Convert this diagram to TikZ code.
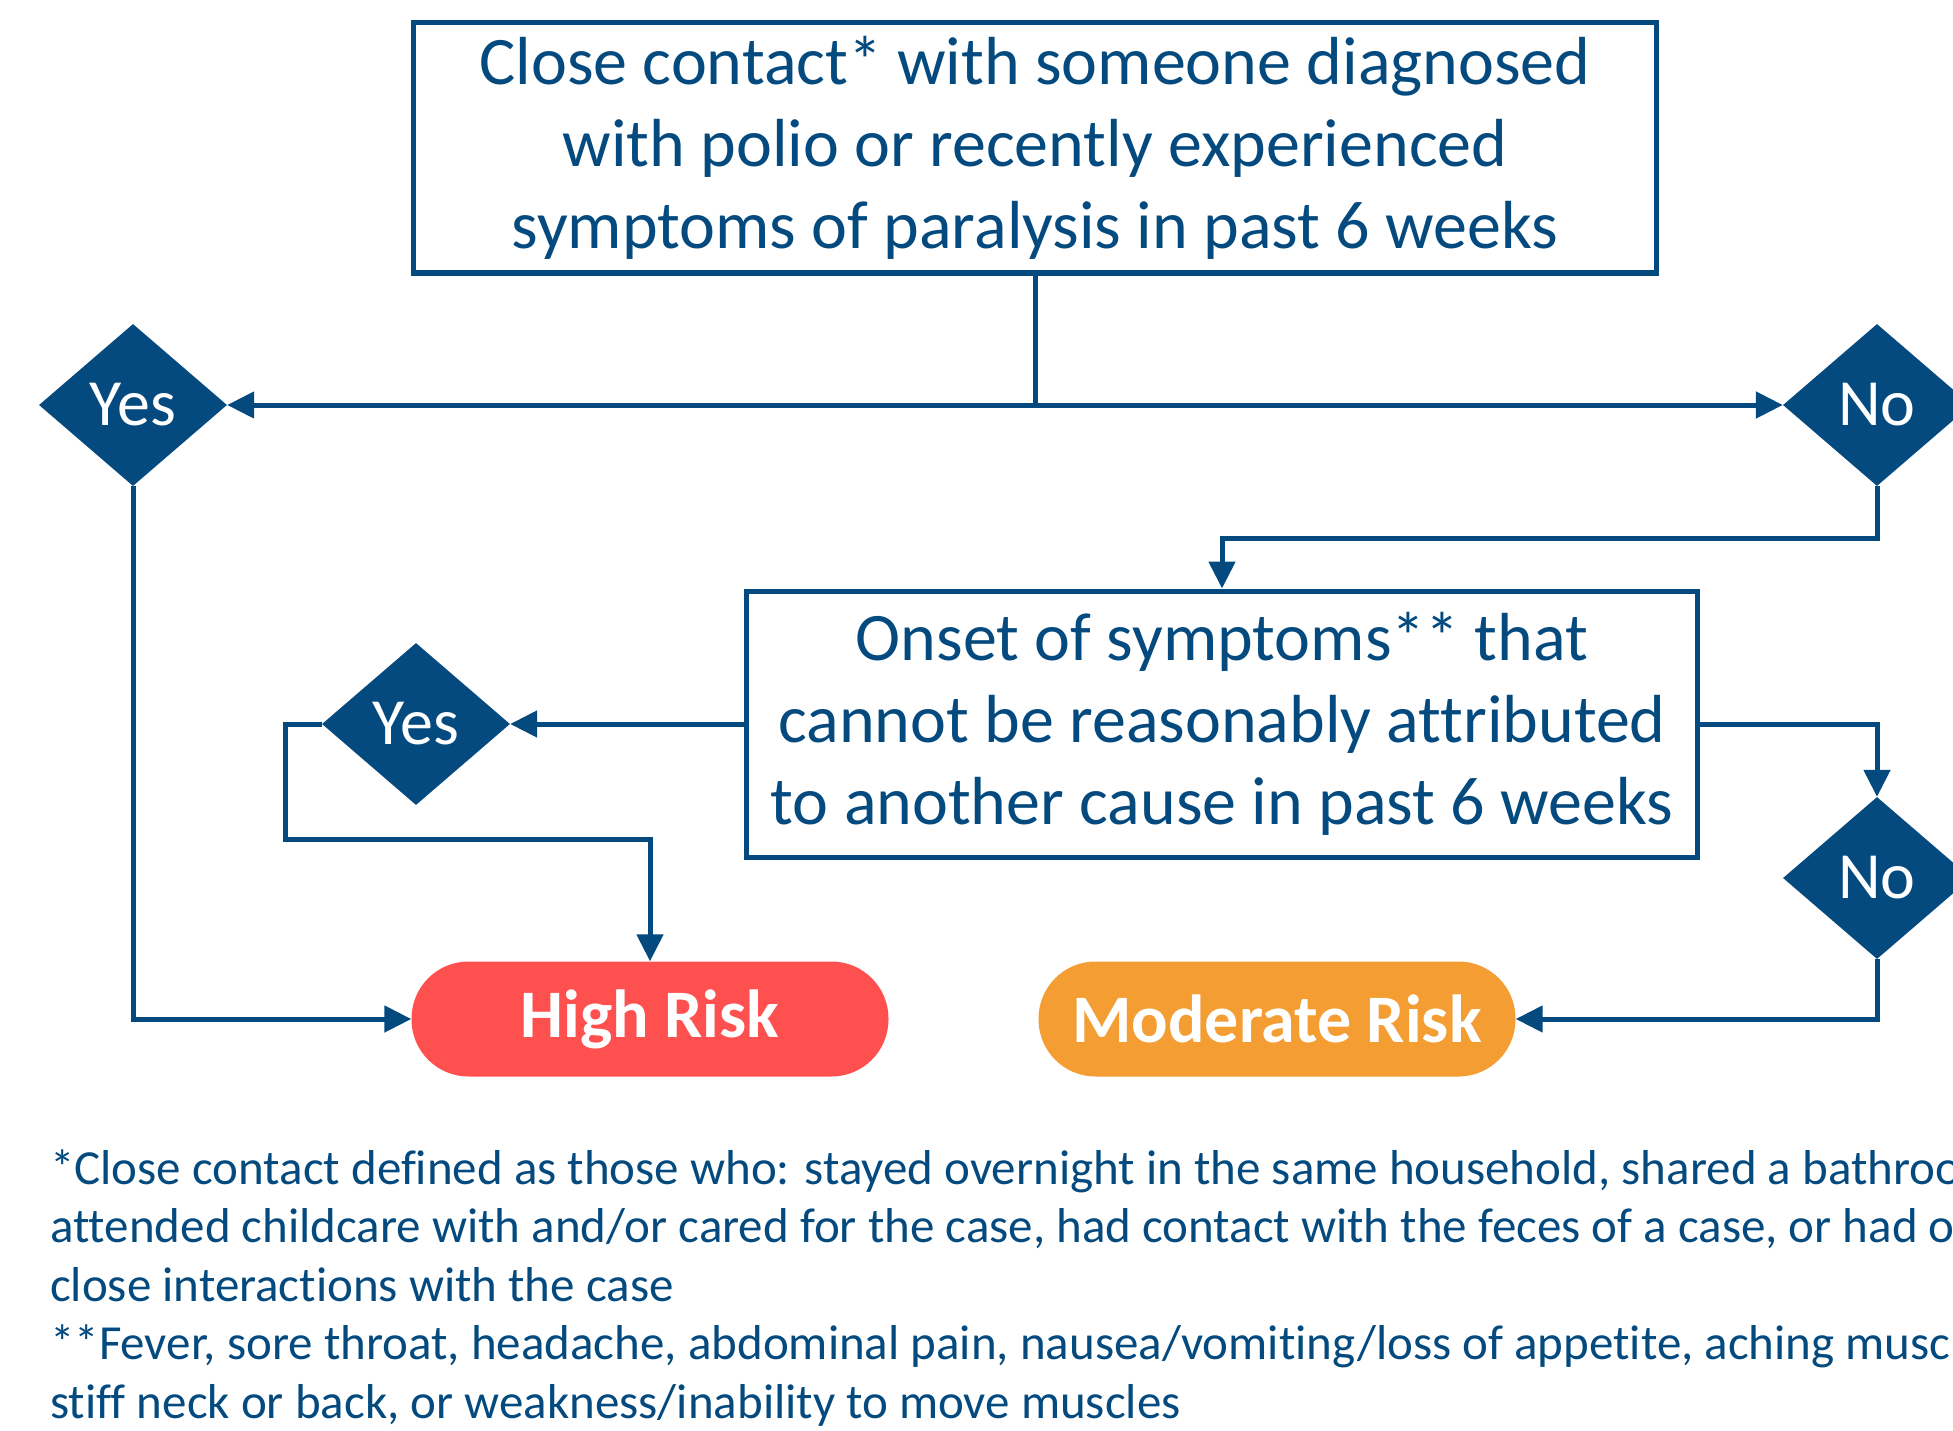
\documentclass[tikz,border=0pt]{standalone}
\usepackage{fontspec}
\setmainfont{Carlito}[Ligatures=NoCommon]
\usepackage{tikz}
\usetikzlibrary{positioning,arrows.meta,shapes.geometric,calc}
\definecolor{polioblue}{RGB}{4,74,126}
\definecolor{riskred}{RGB}{255,80,80}
\definecolor{riskorange}{RGB}{243,157,51}

\begin{document}
\begin{tikzpicture}[x=1pt,y=-1pt,
  question/.style={rectangle,draw=polioblue,line width=5pt,inner sep=0pt,align=center,text=polioblue,font=\fontsize{68}{82}\selectfont},
  choice/.style={diamond,fill=polioblue,inner sep=0pt,minimum width=188pt,minimum height=162pt,text=white,font=\fontsize{66}{80}\selectfont},
  outcome/.style={rectangle,rounded corners=57pt,fill=#1,minimum width=477pt,minimum height=115pt,inner sep=0pt,text=white,font=\fontsize{68}{80}\selectfont\bfseries},
  flow/.style={-{Triangle[length=27pt,width=26pt]},line width=5pt,draw=polioblue},
  note/.style={anchor=north west,inner sep=0pt,align=left,text=polioblue,font=\fontsize{49}{58.5}\selectfont},
]
\useasboundingbox (0,0) rectangle (1953,1431);

% Top: first question
\node[question,minimum width=1243pt,minimum height=250pt] (contact) at (1035,148) {Close contact* with someone diagnosed\\with polio or recently experienced\\symptoms of paralysis in past 6 weeks};

% First answers
\node[choice] (yes1) at (133,405) {Yes};
\node[choice] (no1) at (1877,405) {No};
\coordinate (split) at (contact.south |- yes1);
\draw[line width=5pt,draw=polioblue] (contact.south) -- (split);
\draw[flow] (split) -- (yes1.east);
\draw[flow] (split) -- (no1.west);

% Second question
\node[question,minimum width=951pt,minimum height=266pt] (onset) at (1222,724) {Onset of symptoms** that\\cannot be reasonably attributed\\to another cause in past 6 weeks};
\draw[flow] (no1.south) -- ++(0,52) -| (onset.north);

% Second answers
\node[choice] (yes2) at (416,724) {Yes};
\node[choice] (no2) at (1877,878) {No};
\draw[flow] (onset.west) -- (yes2.east);
\draw[flow] (onset.east) -| (no2.north);

% Outcomes
\node[outcome=riskred] (high) at (650,1019) {High Risk};
\node[outcome=riskorange] (moderate) at (1277,1019) {Moderate Risk};
\draw[flow] (yes1.south) |- (high.west);
\draw[flow] (yes2.west) -- ++(-36,0) |- ($(high.north)+(0,-122)$) -- (high.north);
\draw[flow] (no2.south) |- (moderate.east);

% Footnotes
\node[note] (notes) at (50,1149) {*Close contact defined as those who: stayed overnight in the same household, shared a bathroom,\\attended childcare with and/or cared for the case, had contact with the feces of a case, or had other\\close interactions with the case\\**Fever, sore throat, headache, abdominal pain, nausea/vomiting/loss of appetite, aching muscles,\\stiff neck or back, or weakness/inability to move muscles};
\end{tikzpicture}
\end{document}
